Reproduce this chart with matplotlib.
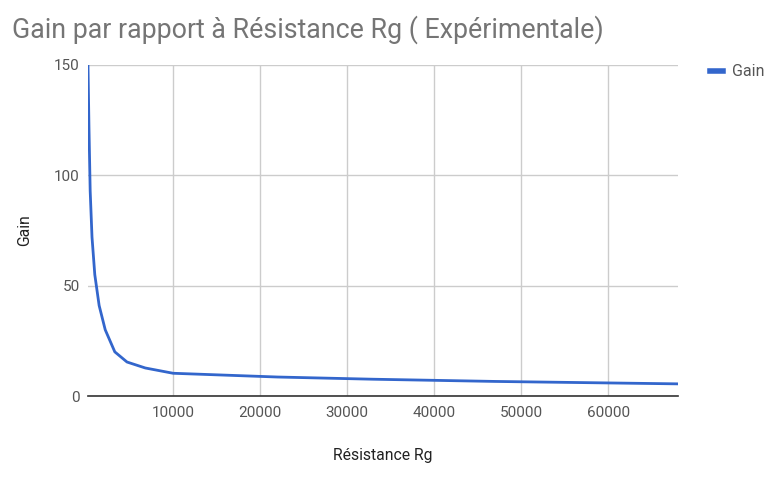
import matplotlib.pyplot as plt

# valeurs
rg = [220, 330, 470, 680, 1000, 1500, 2200, 3300, 4700, 6800, 10000,
      22000, 33000, 47000, 68000]
gain = [150, 122, 93, 72, 55, 41, 30, 20, 15.4, 12.7, 10.3,
        8.6, 7.6, 6.6, 5.5]

xticks = [10000, 20000, 30000, 40000, 50000, 60000]
yticks = [0, 50, 100, 150]

plt.rcParams['font.family'] = ['Roboto', 'DejaVu Sans']

fig = plt.figure(figsize=(7.79, 4.78), dpi=100)
ax = fig.add_axes([88/779, 1-396/478, (678-88)/779, (396-65)/478])

ax.plot(rg, gain, '-', color='#3366cc', lw=2, label='Gain', solid_joinstyle='round')

ax.set_xlim(rg[0], rg[-1])
ax.set_ylim(0, 150)
ax.set_xticks(xticks)
ax.set_yticks(yticks)
ax.grid(True, color='#cccccc', lw=1)
ax.set_axisbelow(True)
for s in ['top', 'right', 'left']:
    ax.spines[s].set_visible(False)
ax.spines['bottom'].set_color('#333333')
ax.spines['bottom'].set_linewidth(1.2)
ax.tick_params(length=0, labelsize=11, colors='#555555', pad=7)
ax.tick_params(axis='y', pad=6)

ax.set_xlabel('Résistance Rg', fontsize=11.3, color='#222222', labelpad=20)
ax.set_ylabel('Gain', fontsize=11.3, color='#222222', labelpad=16)

fig.text(12/779, 1-30/478, 'Gain par rapport à Résistance Rg ( Expérimentale)',
         fontsize=19.3, color='#757575', va='center', ha='left')

ax.legend(loc='upper left', bbox_to_anchor=(1.03, 1.045), frameon=False,
          fontsize=11.5, handlelength=0.8, handletextpad=0.6, labelcolor='#555555')
leg = ax.get_legend()
leg.get_lines()[0].set_linewidth(4)

fig.savefig('out.png', dpi=100)
